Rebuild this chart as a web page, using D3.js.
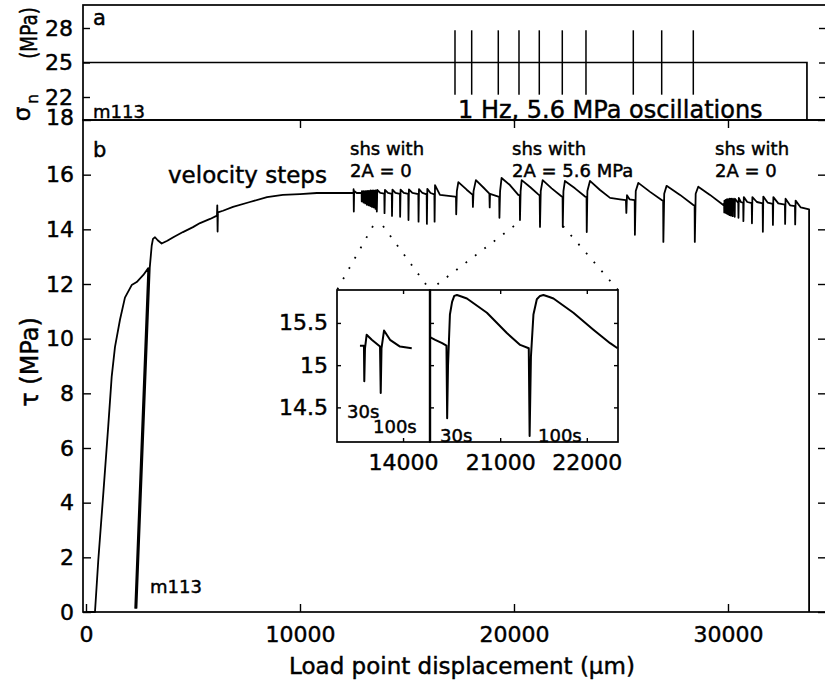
<!DOCTYPE html>
<html>
<head>
<meta charset="utf-8">
<script src="https://cdn.jsdelivr.net/npm/d3@7"></script>
<style>
body{margin:0;background:#fff;}
svg{display:block;}
svg text{stroke:#000;stroke-width:0.45px;}
</style>
</head>
<body>
<div id="chart"></div>
<script>
var dispTicks = [0, 10000, 20000, 30000];
var tauTicks = [0, 2, 4, 6, 8, 10, 12, 14, 16, 18];
var sigmaTicks = [22, 25, 28];
var insetTauTicks = [14.5, 15, 15.5];
var insetLeftTicks = [14000];
var insetRightTicks = [21000, 22000];

// panel a: normal stress (MPa) and the 1 Hz oscillation bursts
var normalStress = [[-140, 25], [33690, 25], [33690, 20]];
var oscillationDisp = [17243, 18023, 19266, 20234, 21182, 22257, 23364, 25575, 26902, 28379];
var oscillationRange = [22.2, 27.8];

// panel b: shear stress vs load point displacement [um, MPa]
var runIn = [[0,0],[420,0],[575,1.9],[810,4.35],[1040,6.8],[1200,8.6],[1355,9.7],[1590,10.7],[1820,11.5],
	[2135,11.96],[2370,12.07],[2680,12.33],[2910,12.58],[2300,0.15],[2360,0.15],[2980,12.6],[3070,13.4],
	[3130,13.65],[3225,13.71],[3350,13.6],[3535,13.48]];
var velocitySteps = [[3800,13.58],[4100,13.72],[4530,13.9],[5000,14.08],[5330,14.23],[5800,14.38],[6120,14.5],
	[6135,14.88],[6150,13.92],[6165,14.62],[6400,14.68],[6870,14.82],[7660,15.0],[8460,15.18],[9200,15.26],
	[10000,15.29],[10790,15.33],[12480,15.33]];
var shsNoOsc1 = [[12500,15.33],[12505,15.47],[12515,14.65],[12530,15.4],[12650,15.33],
	[12880,15.33],[12885,15.02],[12895,15.4],[12960,15.33],[12965,14.98],[12975,15.4],
	[13040,15.33],[13045,14.95],[13055,15.4],[13120,15.33],[13125,14.9],[13135,15.41],
	[13200,15.33],[13205,14.88],[13215,15.41],[13280,15.33],[13285,14.85],[13295,15.42],
	[13360,15.33],[13365,14.82],[13375,15.42],[13440,15.33],[13445,14.8],[13455,15.42],
	[13520,15.33],[13525,14.75],[13535,15.42],
	[13580,15.32],[13590,14.65],[13610,15.44],[13750,15.33],
	[13940,15.31],[13950,14.59],[13970,15.44],[14110,15.33],
	[14290,15.3],[14300,14.49],[14320,15.45],[14460,15.33],
	[14670,15.3],[14680,14.46],[14700,15.45],[14850,15.33],
	[15060,15.3],[15070,14.34],[15090,15.46],[15250,15.33],
	[15530,15.29],[15540,14.28],[15560,15.47],[15720,15.33],
	[15920,15.28],[15930,14.2],[15950,15.48],[16100,15.33],
	[16280,15.28],[16290,14.28],[16310,15.62],[16540,15.26],[17240,15.2]];
var shsOsc = [[17290,15.18],[17300,14.55],[17330,15.4],[17400,15.73],[17790,15.45],[18070,15.26],
	[18080,14.82],[18110,15.4],[18220,15.8],[18570,15.53],[18850,15.31],
	[18865,14.8],[18880,15.3],[19270,15.2],
	[19310,15.18],[19320,14.42],[19350,15.4],[19420,15.88],[19810,15.62],[20200,15.26],[20270,15.24],
	[20280,14.34],[20310,15.4],[20360,15.8],[20750,15.55],[21135,15.28],[21200,15.24],
	[21215,14.09],[21250,15.4],[21340,15.8],[21760,15.5],[22230,15.2],[22270,15.18],
	[22280,14.09],[22310,15.4],[22380,15.77],[22850,15.5],[23320,15.2],[23390,15.18],
	[23400,13.9],[23430,15.4],[23550,15.77],[24020,15.44],[24490,15.15],[24950,15.1],[25230,15.07],
	[25250,14.6],[25280,15.25],[25400,15.1],[25640,15.07],
	[25650,13.8],[25690,15.4],[25810,15.7],[26360,15.37],[26900,15.07],[26970,15.05],
	[26980,13.54],[27020,15.3],[27130,15.59],[27760,15.26],[28380,14.89],[28440,14.88],
	[28450,13.54],[28490,15.3],[28610,15.56],[29160,15.26],[29780,14.89]];
var shsNoOsc2 = [[29820,14.95],[29825,14.62],[29835,15.05],[29880,14.98],[29885,14.6],[29895,15.08],
	[29940,14.98],[29945,14.58],[29955,15.1],[30000,14.98],[30005,14.55],[30015,15.1],
	[30070,14.98],[30075,14.52],[30085,15.12],[30140,14.98],[30145,14.5],[30155,15.12],
	[30220,14.97],[30225,14.48],[30235,15.12],[30310,14.97],[30315,14.46],[30325,15.12],
	[30480,14.97],[30490,14.42],[30505,15.15],[30600,15.0],
	[30710,14.97],[30720,14.3],[30740,15.18],[30900,15.0],
	[31110,14.96],[31120,14.22],[31140,15.18],[31350,15.0],
	[31620,14.95],[31630,13.91],[31650,15.2],[31850,14.98],
	[32090,14.93],[32100,14.16],[32120,15.18],[32350,14.95],
	[32660,14.9],[32670,14.2],[32690,15.12],[32900,14.88],
	[33130,14.85],[33140,14.18],[33160,15.05],[33400,14.8],[33790,14.73],[33790,0]];

// inset: close-ups of two slide-hold-slides each
var insetLeft = [[13504,15.23],[13550,15.23],[13554,14.81],[13562,15.2],[13581,15.36],[13640,15.3],
	[13735,15.22],[13743,14.67],[13752,15.2],[13781,15.41],[13850,15.3],[13965,15.22],[14100,15.2]];
var insetRight = [[20195,15.33],[20250,15.3],[20330,15.26],[20380,15.23],[20388,14.37],[20398,15.0],
	[20420,15.6],[20445,15.75],[20470,15.82],[20501,15.83],[20560,15.81],[20616,15.79],[20847,15.62],
	[21077,15.38],[21231,15.24],[21330,15.2],[21340,14.16],[21355,15.1],[21384,15.6],[21423,15.78],
	[21460,15.82],[21499,15.83],[21560,15.81],[21615,15.79],[21845,15.62],[22076,15.42],[22269,15.26],[22355,15.2]];
var zoomFrom = [[13410, 13880], [20000, 22290]];
var zoomLevel = 14.12;

var font = "DejaVu Sans";

var svg = d3.select("#chart")
	.append("svg")
	.attr("width", 825)
	.attr("height", 683)
	.attr("viewBox", "0 0 825 683")
	.attr("font-family", font);

var x = d3.scaleLinear().domain([-140, 34580]).range([83, 826]);
var yA = d3.scaleLinear().domain([20, 30]).range([120, 5]);
var yB = d3.scaleLinear().domain([0, 18]).range([612, 120]);

var xInL = d3.scaleLinear().domain([13240, 14310]).range([337, 430]);
var xInR = d3.scaleLinear().domain([20190, 22360]).range([430, 618]);
var yIn = d3.scaleLinear().domain([14.09, 15.89]).range([442, 290]);

function styleAxis(g, size){
	g.select(".domain").remove();
	g.attr("font-family", font).attr("font-size", size);
	g.selectAll(".tick line").attr("stroke", "#000").attr("stroke-width", 1.4);
	g.selectAll(".tick text").attr("fill", "#000");
}

// frames
svg.append("rect")
	.attr("x", 83).attr("y", 5)
	.attr("width", 743).attr("height", 115)
	.attr("fill", "none").attr("stroke", "#000").attr("stroke-width", 1.7);
svg.append("rect")
	.attr("x", 83).attr("y", 120)
	.attr("width", 743).attr("height", 492)
	.attr("fill", "none").attr("stroke", "#000").attr("stroke-width", 1.7);

// panel a axes
svg.append("g")
	.attr("transform", "translate(83,0)")
	.call(d3.axisLeft(yA).tickValues(sigmaTicks).tickSize(-7).tickPadding(10))
	.call(styleAxis, 22);
svg.append("g")
	.attr("transform", "translate(826,0)")
	.call(d3.axisRight(yA).tickValues(sigmaTicks).tickSize(-7).tickFormat(""))
	.call(styleAxis, 22);

// panel b axes
var yAxisB = svg.append("g")
	.attr("transform", "translate(83,0)")
	.call(d3.axisLeft(yB).tickValues(tauTicks).tickSize(-8).tickPadding(9))
	.call(styleAxis, 22);
yAxisB.selectAll(".tick text").filter(function(d){ return d === 18; }).attr("transform", "translate(0,-3)");
svg.append("g")
	.attr("transform", "translate(826,0)")
	.call(d3.axisRight(yB).tickValues(tauTicks).tickSize(-8).tickFormat(""))
	.call(styleAxis, 22);
svg.append("g")
	.attr("transform", "translate(0,612)")
	.call(d3.axisBottom(x).tickValues(dispTicks).tickSize(-8).tickPadding(14).tickFormat(d3.format("d")))
	.call(styleAxis, 22);
svg.append("g")
	.attr("transform", "translate(0,120)")
	.call(d3.axisTop(x).tickValues(dispTicks.slice(1)).tickSize(-8).tickFormat(""))
	.call(styleAxis, 22);

// panel a data
var lineA = d3.line().x(function(d){ return x(d[0]); }).y(function(d){ return yA(d[1]); });
svg.append("path")
	.attr("d", lineA(normalStress))
	.attr("fill", "none").attr("stroke", "#000").attr("stroke-width", 1.7);
svg.append("g").selectAll("line")
	.data(oscillationDisp)
	.enter().append("line")
	.attr("x1", function(d){ return x(d); })
	.attr("x2", function(d){ return x(d); })
	.attr("y1", yA(oscillationRange[0]))
	.attr("y2", yA(oscillationRange[1]))
	.attr("stroke", "#000").attr("stroke-width", 1.5);

// panel b data
var lineB = d3.line().x(function(d){ return x(d[0]); }).y(function(d){ return yB(d[1]); });
var tauCurve = runIn.concat(velocitySteps, shsNoOsc1, shsOsc, shsNoOsc2);
svg.append("path")
	.attr("d", lineB(tauCurve))
	.attr("fill", "none").attr("stroke", "#000").attr("stroke-width", 1.8)
	.attr("stroke-linejoin", "round");

// dotted zoom guides
var guides = [
	[zoomFrom[0][0], xInL.range()[0]], [zoomFrom[0][1], xInL.range()[1]],
	[zoomFrom[1][0], xInR.range()[0]], [zoomFrom[1][1], xInR.range()[1]]
];
svg.append("g").selectAll("line")
	.data(guides)
	.enter().append("line")
	.attr("x1", function(d){ return x(d[0]); })
	.attr("y1", yB(zoomLevel))
	.attr("x2", function(d){ return d[1]; })
	.attr("y2", yIn.range()[1])
	.attr("stroke", "#000").attr("stroke-width", 1.8)
	.attr("stroke-dasharray", "1.8 10");

// inset
var inset = svg.append("g");
inset.append("rect")
	.attr("x", 337).attr("y", 290).attr("width", 281).attr("height", 152)
	.attr("fill", "#fff");
inset.append("g")
	.attr("transform", "translate(337,0)")
	.call(d3.axisLeft(yIn).tickValues(insetTauTicks).tickSize(-4).tickPadding(9).tickFormat(function(d){ return d; }))
	.call(styleAxis, 22);
inset.append("g")
	.attr("transform", "translate(430,0)")
	.call(d3.axisLeft(yIn).tickValues(insetTauTicks).tickSize(-4).tickFormat(""))
	.call(styleAxis, 22);
inset.append("g")
	.attr("transform", "translate(618,0)")
	.call(d3.axisRight(yIn).tickValues(insetTauTicks).tickSize(-4).tickFormat(""))
	.call(styleAxis, 22);
inset.append("g")
	.attr("transform", "translate(0,442)")
	.call(d3.axisBottom(xInL).tickValues(insetLeftTicks).tickSize(-4).tickPadding(12).tickFormat(d3.format("d")))
	.call(styleAxis, 22);
inset.append("g")
	.attr("transform", "translate(0,442)")
	.call(d3.axisBottom(xInR).tickValues(insetRightTicks).tickSize(-4).tickPadding(12).tickFormat(d3.format("d")))
	.call(styleAxis, 22);
inset.append("g")
	.attr("transform", "translate(0,290)")
	.call(d3.axisTop(xInL).tickValues(insetLeftTicks).tickSize(-4).tickFormat(""))
	.call(styleAxis, 22);
inset.append("g")
	.attr("transform", "translate(0,290)")
	.call(d3.axisTop(xInR).tickValues(insetRightTicks).tickSize(-4).tickFormat(""))
	.call(styleAxis, 22);

var lineInL = d3.line().x(function(d){ return xInL(d[0]); }).y(function(d){ return yIn(d[1]); });
var lineInR = d3.line().x(function(d){ return xInR(d[0]); }).y(function(d){ return yIn(d[1]); });
inset.append("path")
	.attr("d", lineInL(insetLeft))
	.attr("fill", "none").attr("stroke", "#000").attr("stroke-width", 2).attr("stroke-linejoin", "round");
inset.append("path")
	.attr("d", lineInR(insetRight))
	.attr("fill", "none").attr("stroke", "#000").attr("stroke-width", 2).attr("stroke-linejoin", "round");
inset.append("rect")
	.attr("x", 337).attr("y", 290).attr("width", 93).attr("height", 152)
	.attr("fill", "none").attr("stroke", "#000").attr("stroke-width", 1.7);
inset.append("rect")
	.attr("x", 430).attr("y", 290).attr("width", 188).attr("height", 152)
	.attr("fill", "none").attr("stroke", "#000").attr("stroke-width", 1.7);
inset.append("line")
	.attr("x1", 430).attr("x2", 430).attr("y1", 290).attr("y2", 442)
	.attr("stroke", "#000").attr("stroke-width", 2.4);

// annotations
function label(txt, px, py, size, anchor){
	return svg.append("text")
		.attr("x", px).attr("y", py)
		.attr("font-size", size)
		.attr("text-anchor", anchor || "start")
		.attr("fill", "#000")
		.text(txt);
}
label("a", 93, 25, 21);
label("m113", 93, 118, 18);
label("1 Hz, 5.6 MPa oscillations", 458, 118, 24);
label("b", 93, 157, 21);
label("velocity steps", 168, 183, 23);
label("shs with", 350, 155, 18);
label("2A = 0", 350, 177, 18);
label("shs with", 512, 155, 18);
label("2A = 5.6 MPa", 512, 177, 18);
label("shs with", 715, 155, 18);
label("2A = 0", 715, 177, 18);
label("m113", 150, 593, 18);
label("30s", 347, 418, 18);
label("100s", 373, 433, 18);
label("30s", 440, 442, 18);
label("100s", 538, 442, 18);
label("Load point displacement (\u00b5m)", 462, 674, 23, "middle");

svg.append("text")
	.attr("transform", "translate(38,362) rotate(-90)")
	.attr("font-size", 24)
	.attr("text-anchor", "middle")
	.text("\u03c4 (MPa)");
svg.append("text")
	.attr("transform", "translate(37,33) rotate(-90) scale(0.8,1)")
	.attr("font-size", 23)
	.attr("text-anchor", "middle")
	.text("(MPa)");
svg.append("text")
	.attr("transform", "translate(30,114) rotate(-90)")
	.attr("font-size", 23)
	.attr("text-anchor", "middle")
	.text("\u03c3");
svg.append("text")
	.attr("transform", "translate(38,99) rotate(-90)")
	.attr("font-size", 15)
	.attr("text-anchor", "middle")
	.text("n");
</script>
</body>
</html>
